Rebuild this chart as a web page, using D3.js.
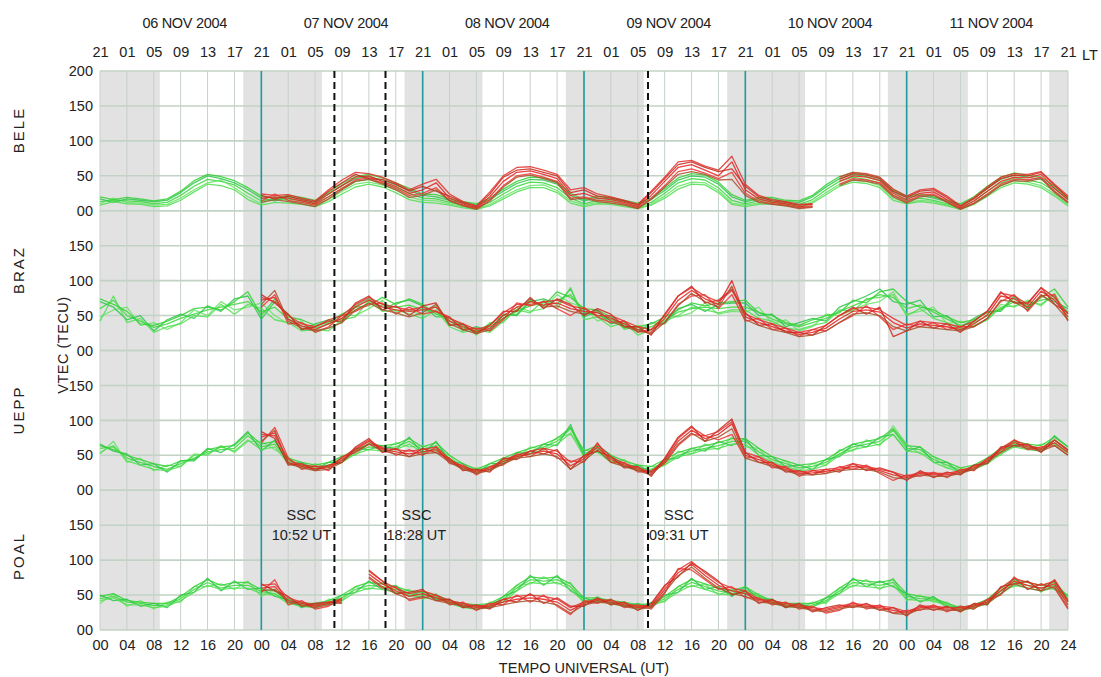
<!DOCTYPE html>
<html>
<head>
<meta charset="utf-8">
<script src="https://cdn.jsdelivr.net/npm/d3@7"></script>
<style>
  body { margin: 0; background: #fff; }
  svg { display: block; font-family: "Liberation Sans", Arial, sans-serif; }
</style>
</head>
<body>
<svg id="chart" width="1101" height="677"></svg>
<script>
// ---- data -------------------------------------------------------------
const stations = ["BELE", "BRAZ", "UEPP", "POAL"];
const dayLabels = ["06 NOV 2004", "07 NOV 2004", "08 NOV 2004", "09 NOV 2004", "10 NOV 2004", "11 NOV 2004"];
const dayStarts = [24, 48, 72, 96, 120];               // 00 UT of 07..11 Nov (hours from 06 Nov 00 UT)
const sscHours = [34.87, 42.47, 81.52];                // storm sudden commencements
const sscLabels = ["10:52 UT", "18:28 UT", "09:31 UT"];
const nightStart = [-3, 21.3, 45.3, 69.3, 93.3, 117.2, 141.2];
const nightEnd = [8.9, 33.0, 56.9, 80.9, 104.9, 129.1, 147];
const vtecTicks = [0, 50, 100, 150];

// VTEC (TECU) every 2 h. Quiet-day curves start 06 Nov 00 UT, storm-period curves start 07 Nov 00 UT.
const beleQuiet = [
  [13,15,14,13,10,12,22,35,45,42,37,25, 14,16,17,14,10,20,32,42,45,40,33,25, 18,17,12,8,5,12,24,35,41,40,33,18, 10,15,14,10,6,12,25,40,46,44,33,15, 10,14,14,10,9,16,30,42,48,45,40,22, 15,18,15,10,5,14,28,40,47,44,40,28,12],
  [10,18,12,11,8,9,18,30,40,44,33,20, 10,20,14,12,8,16,28,38,41,37,30,20, 15,14,10,6,3,9,20,30,36,37,29,14, 8,12,11,8,4,10,21,35,41,40,29,11, 8,11,12,8,7,13,26,38,44,42,36,18, 12,15,13,8,3,11,24,36,43,41,36,24,9],
  [17,12,17,15,13,15,26,40,50,46,40,30, 18,14,20,17,13,24,36,46,49,44,37,29, 22,20,15,11,8,16,28,39,45,44,38,22, 14,18,17,13,9,16,29,44,50,48,38,20, 13,17,17,13,12,20,34,46,52,49,44,27, 19,22,18,13,8,18,32,45,51,48,45,32,16],
  [8,13,10,9,6,7,15,27,38,36,30,16, 8,12,11,9,6,13,24,34,38,34,26,16, 12,11,8,4,2,7,17,27,33,33,26,11, 6,10,9,6,3,8,18,31,38,37,26,9, 6,9,10,7,5,11,23,35,41,39,33,15, 10,13,11,7,2,9,21,33,40,38,33,21,7],
  [20,16,19,17,14,17,28,43,52,49,43,33, 21,18,22,19,15,26,39,49,52,47,40,32, 24,23,17,13,10,18,31,42,48,47,41,25, 16,21,19,15,11,18,32,47,53,51,41,23, 15,19,19,15,14,22,37,49,55,52,47,30, 21,24,20,15,10,20,35,48,54,51,48,35,18]
];
const beleStorm = [
  [18,20,18,14,10,24,36,48,50,42,35,25, 30,40,18,10,4,20,42,55,57,52,46,22, 25,18,16,12,6,22,42,62,66,58,50,70, 30,17,12,10,6,7,null,42,50,48,43,25, 16,25,27,16,4,14,28,42,48,47,52,32,16],
  [14,24,15,12,8,20,32,44,47,40,32,22, 25,33,15,8,3,16,36,50,53,48,42,18, 20,15,13,10,4,18,36,56,60,54,46,55, 25,14,10,8,4,6,null,38,46,44,40,22, 13,22,24,13,3,11,24,38,45,44,48,28,13],
  [22,17,21,16,12,28,40,52,46,45,38,28, 35,28,21,12,6,24,48,58,60,55,50,26, 30,21,18,14,8,26,46,66,70,62,56,60, 35,20,14,12,8,9,null,45,53,51,46,28, 19,28,30,19,6,17,32,46,51,50,55,36,19],
  [12,16,13,10,6,17,30,42,45,38,30,19, 22,30,14,7,2,14,34,48,51,46,40,16, 18,13,11,8,3,16,34,52,56,52,44,45, 22,12,9,7,3,5,null,36,44,42,38,20, 11,20,22,12,2,10,22,36,43,42,46,26,11],
  [24,22,23,18,14,30,44,55,53,48,40,30, 38,45,24,13,7,27,50,62,63,58,52,30, 33,24,20,15,9,28,48,70,72,64,58,78, 38,22,16,13,9,10,null,48,55,53,48,31, 21,30,32,21,7,19,34,48,53,52,56,38,21]
];
const brazQuiet = [
  [60,72,50,42,33,38,46,52,58,62,66,70, 55,62,45,35,32,38,46,58,68,64,62,65, 58,55,42,32,28,34,46,56,64,68,72,80, 55,50,44,36,30,34,44,55,60,62,60,62, 62,55,45,38,34,40,46,56,64,72,80,76, 60,65,55,45,36,40,50,60,70,65,72,75,55],
  [48,58,62,36,40,30,40,58,50,70,58,62, 68,50,38,42,26,32,52,50,60,72,55,58, 50,64,36,38,22,40,40,62,56,60,80,68, 62,42,50,30,36,28,50,48,54,68,52,56, 55,62,38,44,28,34,52,50,58,66,70,84, 52,56,62,38,42,34,44,66,62,72,64,82,48],
  [70,62,44,50,28,44,52,46,64,56,74,78, 45,70,52,30,38,44,40,64,74,58,68,72, 64,48,48,28,34,28,52,50,70,74,66,88, 48,56,38,42,26,40,38,60,66,56,66,68, 68,50,52,34,40,46,42,62,70,78,88,70, 66,72,48,50,32,46,56,56,76,60,78,70,60],
  [42,78,40,46,26,34,38,50,48,66,52,66, 60,44,40,28,30,28,44,48,72,56,58,52, 46,58,34,26,30,26,42,58,54,72,60,90, 44,48,34,40,22,30,42,50,62,58,54,58, 58,46,42,32,30,36,40,58,56,74,76,80, 50,60,46,40,30,36,44,62,64,70,66,80,44],
  [74,66,56,38,36,42,50,60,62,58,70,84, 50,74,48,44,36,40,52,62,64,76,66,74, 66,52,46,36,26,38,50,52,72,64,84,76, 60,58,48,32,34,38,48,58,68,64,68,70, 72,54,50,40,36,44,50,54,72,68,84,88, 70,62,58,48,40,44,54,58,78,62,76,88,62]
];
const brazStorm = [
  [72,76,45,35,30,38,46,62,72,62,58,56, 58,62,42,34,27,32,50,62,70,65,68,60, 56,54,46,38,30,26,46,72,86,74,66,100, 48,40,34,28,23,26,32,45,56,58,55,40, 32,38,36,34,30,38,51,78,74,62,85,72,48],
  [62,80,38,40,26,34,50,56,66,68,52,62, 52,56,48,30,32,28,44,68,64,70,60,50, 62,48,40,42,26,30,40,66,78,80,60,80, 42,46,30,32,20,30,28,40,50,64,48,30, 38,34,40,30,34,34,46,70,80,56,78,80,42],
  [80,68,52,30,34,42,42,68,78,58,64,50, 64,68,36,38,24,36,56,56,76,60,74,66, 50,60,52,34,34,22,52,78,92,68,72,88, 54,36,38,26,26,22,36,50,62,52,62,20, 28,42,32,38,26,42,56,84,68,68,90,66,54],
  [66,86,42,32,28,32,40,58,68,58,54,48, 54,66,38,30,24,30,46,58,74,62,64,56, 52,58,42,34,28,24,40,64,82,70,62,92, 44,36,30,26,20,22,28,40,52,54,50,34, 28,34,32,30,28,34,46,72,70,58,80,66,44],
  [76,70,50,38,34,44,50,66,76,66,62,58, 62,56,46,38,30,36,54,66,66,70,72,64, 60,50,50,42,34,30,50,78,90,78,70,86, 52,44,38,32,26,30,36,50,60,62,58,46, 36,42,40,38,34,42,56,82,78,66,90,76,52]
];
const ueppQuiet = [
  [60,62,46,40,34,30,38,46,55,58,60,78, 62,66,42,36,33,36,44,55,62,60,62,70, 58,64,45,34,28,34,42,50,56,62,70,88, 52,60,46,38,32,30,40,50,56,60,64,70, 70,55,44,38,32,34,40,52,62,66,70,86, 60,58,44,36,28,32,42,56,66,62,60,72,58],
  [52,70,40,46,28,36,34,52,50,64,54,70, 70,58,48,30,38,32,50,50,68,56,68,62, 64,56,50,30,32,30,46,46,62,58,76,80, 58,54,40,44,28,34,36,56,52,66,58,76, 62,60,40,42,28,38,36,58,56,72,64,92, 66,52,48,32,32,28,46,50,70,58,66,66,52],
  [66,56,52,36,38,26,42,42,60,54,66,84, 56,72,38,40,30,40,40,60,58,64,58,76, 52,70,42,38,24,38,38,54,52,66,64,94, 48,64,50,34,36,26,44,46,60,56,70,64, 74,50,48,34,36,30,44,48,66,62,76,80, 56,62,40,40,24,36,38,60,62,66,56,78,62],
  [54,64,42,36,30,28,34,50,52,62,56,72, 58,62,38,34,30,34,40,52,58,56,58,66, 54,60,40,32,26,30,38,48,52,58,66,82, 48,56,42,34,28,28,36,48,52,58,60,66, 66,50,40,34,28,30,36,50,58,62,66,80, 56,54,40,32,26,30,38,52,62,58,56,68,54],
  [64,58,50,44,38,34,42,44,58,62,64,82, 66,70,46,40,36,40,48,58,66,64,66,74, 62,68,50,38,30,38,46,54,60,66,74,90, 56,64,50,42,36,34,44,54,60,64,68,74, 74,60,48,42,36,38,44,56,66,70,74,88, 64,62,48,40,32,36,46,60,70,66,64,76,62]
];
const ueppStorm = [
  [76,82,40,34,31,32,43,58,70,58,55,52, 55,58,42,32,26,30,41,48,52,56,52,35, 45,62,44,36,30,24,42,70,86,74,80,95, 50,44,36,30,24,25,27,30,34,32,28,22, 18,24,22,22,26,32,42,58,68,62,58,68,54],
  [68,90,46,30,35,28,48,54,66,62,50,58, 50,62,38,36,22,34,36,52,48,60,46,42, 40,68,40,40,26,28,38,64,80,78,72,80, 46,48,32,34,20,28,24,34,30,36,24,14, 22,20,26,18,30,28,46,54,72,58,62,64,50],
  [84,74,36,38,28,36,40,62,74,54,60,48, 60,54,46,28,30,26,46,44,56,52,58,30, 50,56,48,32,34,20,46,76,92,70,86,102, 54,40,40,26,28,22,30,26,38,28,32,26, 14,28,18,26,22,36,38,62,64,66,54,72,58],
  [70,86,38,32,28,30,40,56,66,56,52,48, 52,54,40,30,24,28,38,46,48,52,48,30, 42,58,40,34,28,22,40,66,82,70,76,88, 46,40,34,28,22,22,24,28,30,30,26,18, 16,22,20,20,24,30,40,54,64,60,56,64,50],
  [80,78,44,36,34,34,46,60,72,60,58,56, 58,62,44,34,28,32,44,50,56,60,56,40, 48,66,48,38,32,26,44,74,90,78,84,98, 54,48,38,32,26,28,30,32,38,34,30,26, 20,26,24,24,28,34,44,60,72,64,60,72,56]
];
const poalQuiet = [
  [45,48,40,38,35,36,45,58,68,60,64,64, 55,52,40,36,35,40,46,58,64,62,58,52, 50,48,40,35,33,36,44,60,72,70,72,62, 42,44,40,37,34,36,45,58,68,62,56,52, 58,48,40,36,35,36,42,56,68,66,64,68, 48,45,44,36,30,34,40,56,68,64,60,64,45],
  [38,52,34,42,30,40,40,62,62,66,58,70, 48,58,36,40,30,44,42,62,58,68,52,58, 44,52,36,38,28,40,40,64,66,76,66,68, 38,48,36,40,30,40,40,62,62,66,50,58, 52,52,36,40,30,40,38,60,62,72,58,74, 42,50,40,40,26,38,36,60,62,70,54,70,40],
  [50,42,44,34,38,32,50,54,74,56,70,58, 60,48,44,32,38,36,50,54,70,58,64,48, 56,44,44,32,36,32,48,56,78,64,78,56, 46,40,44,34,38,32,50,54,74,58,62,48, 62,44,44,32,38,32,46,52,74,62,70,62, 52,40,48,32,34,30,44,52,74,58,66,58,50],
  [42,46,36,36,32,34,42,54,64,58,60,60, 52,50,38,34,32,38,42,54,60,58,54,50, 46,46,38,32,30,34,40,56,68,66,68,58, 40,42,38,34,32,34,42,54,64,58,52,50, 54,46,38,34,32,34,40,52,64,62,60,64, 44,42,42,34,28,32,38,52,64,60,56,60,42],
  [48,52,42,40,38,38,48,62,72,64,68,68, 58,56,44,38,38,42,50,62,68,66,62,56, 54,50,42,38,36,38,48,64,76,74,76,66, 46,46,42,40,36,38,48,62,72,66,60,56, 62,50,42,38,38,38,46,60,72,70,68,72, 52,48,46,38,32,36,44,60,72,68,64,68,48]
];
const poalStorm = [
  [60,62,42,38,34,38,42,null,80,66,56,48, 52,46,40,36,32,34,40,44,46,44,40,28, 38,42,40,36,32,34,58,82,94,78,64,56, 52,42,40,36,34,30,28,32,36,34,32,28, 24,32,32,30,30,34,40,56,70,64,60,66,36],
  [54,72,36,42,30,34,46,null,74,60,62,42, 46,50,36,40,28,38,36,50,40,50,34,22, 42,38,44,32,36,30,52,88,86,72,58,62, 46,46,36,40,30,34,24,28,40,30,36,24, 28,28,36,26,34,30,44,50,76,58,66,60,30],
  [66,56,48,34,38,40,38,null,86,70,52,54, 58,42,44,32,36,30,44,40,52,38,46,34, 34,46,36,40,28,38,64,76,96,84,70,50, 56,38,44,32,38,26,32,36,32,38,28,32, 20,36,28,34,26,38,36,62,66,70,56,72,42],
  [56,58,40,36,32,36,40,null,76,62,52,44, 48,42,38,34,30,32,36,40,42,40,36,24, 36,40,38,34,30,32,54,78,90,74,60,52, 48,40,38,34,32,28,26,30,34,32,30,24, 22,30,30,28,28,32,38,52,66,60,56,62,32],
  [64,66,46,40,36,40,44,null,84,70,60,52, 56,50,42,38,34,36,44,48,50,48,44,32, 40,44,42,38,34,36,62,86,98,82,68,60, 56,44,42,38,36,32,30,34,38,36,34,32, 26,34,34,32,32,36,42,60,74,68,64,70,40]
];
const quietSets = [beleQuiet, brazQuiet, ueppQuiet, poalQuiet];
const stormSets = [beleStorm, brazStorm, ueppStorm, poalStorm];
const quietStart = 0, stormStart = 24, stepHours = 2;

// ---- layout -----------------------------------------------------------
const svg = d3.select("#chart");
const plotLeft = 100, plotRight = 1068, plotTop = 71, panelH = 139.75;
const plotBottom = plotTop + panelH * stations.length;
const x = d3.scaleLinear().domain([0, 144]).range([plotLeft, plotRight]);
const yScales = stations.map((s, i) =>
  d3.scaleLinear().domain([0, 200]).range([plotTop + (i + 1) * panelH, plotTop + i * panelH]));

const quietColors = ["#3ad83a", "#66e466", "#2cc44c", "#50de50", "#34d034"];
const stormColors = ["#e82020", "#f03434", "#c8281c", "#a8502a", "#e0302a"];
const txt = "#222";
const fontSize = "14.5px";

// night shading
svg.append("g").selectAll("rect")
  .data(d3.zip(nightStart, nightEnd))
  .join("rect")
  .attr("x", d => x(Math.max(0, d[0])))
  .attr("width", d => x(Math.min(144, d[1])) - x(Math.max(0, d[0])))
  .attr("y", plotTop).attr("height", plotBottom - plotTop)
  .attr("fill", "#e2e2e2");

// grid: vertical every 4 h UT, horizontal every 50 TECU
const hourTicks = d3.range(0, 145, 4);
svg.append("g").selectAll("line")
  .data(hourTicks).join("line")
  .attr("x1", d => x(d)).attr("x2", d => x(d))
  .attr("y1", plotTop).attr("y2", plotBottom)
  .attr("stroke", "#c6d1c8").attr("stroke-width", 1);

const hGrid = svg.append("g");
yScales.forEach(y => {
  hGrid.append("g").selectAll("line").data([0, 50, 100, 150, 200]).join("line")
    .attr("x1", plotLeft).attr("x2", plotRight)
    .attr("y1", d => y(d)).attr("y2", d => y(d))
    .attr("stroke", "#c3d2c6").attr("stroke-width", 1.6);
});

// day boundaries
svg.append("g").selectAll("line")
  .data(dayStarts).join("line")
  .attr("x1", d => x(d)).attr("x2", d => x(d))
  .attr("y1", plotTop).attr("y2", plotBottom)
  .attr("stroke", "#1f9a9c").attr("stroke-width", 1.6);

// VTEC curves
const lineFor = (y, start) => d3.line()
  .defined(d => d != null)
  .x((d, i) => x(start + i * stepHours))
  .y(d => y(d));

const curves = svg.append("g").attr("fill", "none").attr("stroke-linejoin", "round");
stations.forEach((s, i) => {
  const y = yScales[i];
  curves.append("g").selectAll("path")
    .data(quietSets[i]).join("path")
    .attr("d", d => lineFor(y, quietStart)(d))
    .attr("stroke", (d, k) => quietColors[k % quietColors.length])
    .attr("stroke-width", 1.3).attr("stroke-opacity", 0.85);
  curves.append("g").selectAll("path")
    .data(stormSets[i]).join("path")
    .attr("d", d => lineFor(y, stormStart)(d))
    .attr("stroke", (d, k) => stormColors[k % stormColors.length])
    .attr("stroke-width", 1.3).attr("stroke-opacity", 0.85);
});

// SSC markers
svg.append("g").selectAll("line")
  .data(sscHours).join("line")
  .attr("x1", d => x(d)).attr("x2", d => x(d))
  .attr("y1", plotTop).attr("y2", plotBottom)
  .attr("stroke", "#111").attr("stroke-width", 2)
  .attr("stroke-dasharray", "7,4");

const sscG = svg.append("g").attr("font-size", fontSize).attr("fill", txt);
sscHours.forEach((h, k) => {
  const onLeft = k === 0;
  const xt = onLeft ? x(h) - 3 : x(h) + 1;
  const w = 60;
  const cx = onLeft ? xt - w / 2 : xt + w / 2;
  sscG.append("text").attr("x", cx).attr("y", 520).attr("text-anchor", "middle").text("SSC");
  sscG.append("text").attr("x", xt).attr("y", 540)
    .attr("text-anchor", onLeft ? "end" : "start").text(sscLabels[k]);
});

// ---- axes -------------------------------------------------------------
const pad2 = v => String(v).padStart(2, "0");

// bottom: universal time
const utAxis = d3.axisBottom(x).tickValues(hourTicks).tickSize(0)
  .tickFormat(h => h === 144 ? "24" : pad2(h % 24));
svg.append("g").attr("transform", `translate(0,${plotBottom + 7})`).call(utAxis);

// top: local time (UT - 3 h)
const ltAxis = d3.axisTop(x).tickValues(hourTicks).tickSize(0)
  .tickFormat(h => pad2(((h - 3) % 24 + 24) % 24));
svg.append("g").attr("transform", `translate(0,${plotTop - 11})`).call(ltAxis);

// left: VTEC per station panel
yScales.forEach((y, i) => {
  const vals = i === 0 ? vtecTicks.concat([200]) : vtecTicks;
  const ax = d3.axisLeft(y).tickValues(vals).tickSize(0).tickPadding(7)
    .tickFormat(v => v === 0 ? "00" : String(v));
  svg.append("g").attr("transform", `translate(${plotLeft},0)`).call(ax);
});

svg.selectAll(".domain").remove();
svg.selectAll(".tick text").attr("font-size", fontSize).attr("fill", txt)
  .attr("font-family", '"Liberation Sans", Arial, sans-serif');

svg.append("text").attr("x", 1082).attr("y", 60).attr("font-size", fontSize).attr("fill", txt).text("LT");

// date headers
svg.append("g").selectAll("text")
  .data(dayLabels).join("text")
  .attr("x", (d, i) => x(i * 24 + 12) + 4).attr("y", 28)
  .attr("text-anchor", "middle").attr("font-size", fontSize).attr("fill", txt)
  .attr("letter-spacing", "-0.3px")
  .text(d => d);

// station names
const stationY = [130, 270, 410, 556];
svg.append("g").selectAll("text")
  .data(stations).join("text")
  .attr("transform", (d, i) => `translate(24,${stationY[i]}) rotate(-90)`)
  .attr("text-anchor", "middle").attr("font-size", "15px").attr("letter-spacing", "2px")
  .attr("fill", txt).text(d => d);

// axis titles
svg.append("text").attr("transform", "translate(68,345) rotate(-90)")
  .attr("text-anchor", "middle").attr("font-size", fontSize).attr("fill", txt).attr("letter-spacing", "0.5px")
  .text("VTEC (TECU)");
svg.append("text").attr("x", x(72)).attr("y", 673)
  .attr("text-anchor", "middle").attr("font-size", fontSize).attr("fill", txt)
  .text("TEMPO UNIVERSAL (UT)");
</script>
</body>
</html>
